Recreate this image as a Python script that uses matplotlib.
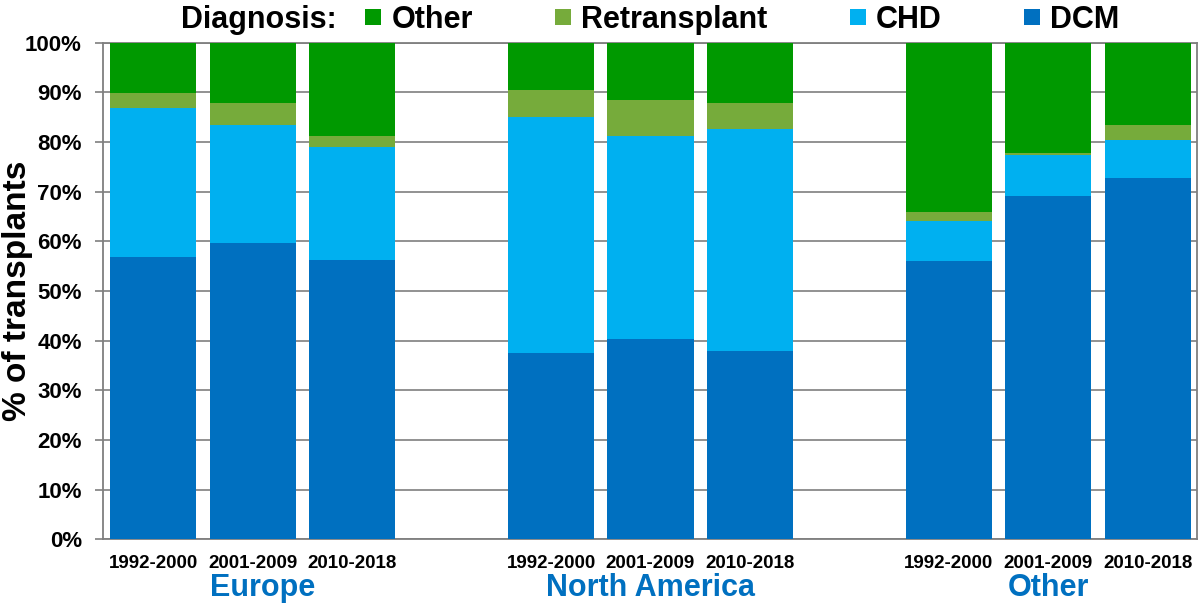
import matplotlib
matplotlib.use("Agg")
import matplotlib.pyplot as plt
from matplotlib.lines import Line2D
import numpy as np

plt.rcParams['font.family'] = ['Liberation Sans', 'DejaVu Sans']
plt.rcParams['font.weight'] = 'bold'

regions = ["Europe", "North America", "Other"]
periods = ["1992-2000", "2001-2009", "2010-2018"]
diagnoses = ["Other", "Retransplant", "CHD", "DCM"]
colors = {"Other": "#009900", "Retransplant": "#76AB3B", "CHD": "#00B0F0", "DCM": "#0070C0"}

# percentages per bar (Europe x3, North America x3, Other x3)
dcm = [56.9, 59.6, 56.2, 37.5, 40.3, 37.9, 56.0, 69.1, 72.8]
chd = [30.0, 23.8, 22.9, 47.5, 41.0, 44.8, 8.2, 8.2, 7.7]
retransplant = [2.9, 4.5, 2.1, 5.4, 7.1, 5.1, 1.8, 0.4, 2.9]
other = [10.2, 12.1, 18.8, 9.6, 11.6, 12.2, 34.0, 22.3, 16.6]

series = {"DCM": dcm, "CHD": chd, "Retransplant": retransplant, "Other": other}

fig = plt.figure(figsize=(12, 6.04), dpi=100)
ax = fig.add_axes([103.5 / 1200, 1 - 539.4 / 604, 1094 / 1200, 496.7 / 604])

positions = []
for g in range(len(regions)):
    for i in range(len(periods)):
        positions.append(g * 4 + i)
positions = np.array(positions, dtype=float)

bottom = np.zeros(len(positions))
for name in ["DCM", "CHD", "Retransplant", "Other"]:
    vals = np.array(series[name]) / 100.0
    ax.bar(positions, vals, width=0.865, bottom=bottom, color=colors[name],
           zorder=3, linewidth=0)
    bottom += vals

ax.set_xlim(-0.5, 10.5)
ax.set_ylim(0, 1)
yt = np.arange(0, 1.01, 0.1)
ax.set_yticks(yt)
ax.set_yticklabels([f"{int(round(v*100))}%" for v in yt], fontsize=16, fontweight='bold')
ax.tick_params(axis='y', length=5.5, width=1.2, color='#7F7F7F', pad=10, direction='out')
ax.set_xticks(positions)
ax.set_xticklabels(periods * len(regions), fontsize=13.5, fontweight='bold')
ax.tick_params(axis='x', length=0, pad=11)
ax.yaxis.grid(True, color='#7F7F7F', linewidth=1.2, zorder=0)
ax.set_axisbelow(True)
for s in ax.spines.values():
    s.set_color('#7F7F7F')
    s.set_linewidth(1.3)

# group labels
label_shift = [0.1, 0.0, 0.0]
trans = matplotlib.transforms.blended_transform_factory(ax.transData, ax.transAxes)
for g, r in enumerate(regions):
    ax.text(g * 4 + 1 + label_shift[g], -0.098, r, transform=trans, ha='center', va='center',
            fontsize=22, fontweight='bold', color='#0070C0')

fig.text(18 / 1200, 1 - 291 / 604, "% of transplants", rotation=90, ha='center',
         va='center', fontsize=24, fontweight='bold')

# legend
fig.text(181 / 1200, 1 - 20 / 604, "Diagnosis:", ha='left', va='center',
         fontsize=22, fontweight='bold')
handles = [Line2D([], [], marker='s', linestyle='none', markersize=11.8,
                  markerfacecolor=colors[d], markeredgewidth=0) for d in diagnoses]
fig.legend(handles, diagnoses, loc='center left', bbox_to_anchor=(361 / 1200, 1 - 20 / 604),
           ncol=4, frameon=False, handlelength=0.8, handletextpad=0.2,
           columnspacing=2.55, borderpad=0, borderaxespad=0,
           prop={'weight': 'bold', 'size': 22})

fig.savefig("out.png", dpi=100)
